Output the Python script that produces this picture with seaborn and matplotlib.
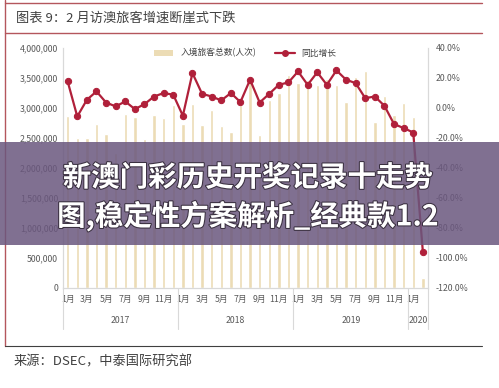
import numpy as np
import pandas as pd
import matplotlib
matplotlib.use("Agg")
import matplotlib.pyplot as plt
import matplotlib.patheffects as pe
from matplotlib.lines import Line2D
from matplotlib.patches import Rectangle, Patch
import seaborn as sns

# 2017-01 .. 2020-02
month_nums = list(range(1, 13)) * 3 + [1, 2]
years = ["2017", "2018", "2019", "2020"]
year_lengths = [12, 12, 12, 2]

visitors = [2870000, 2490000, 2490000, 2730000, 2560000, 2250000, 2900000, 2840000,
            2480000, 2880000, 2830000, 3050000,
            2730000, 3060000, 2720000, 2960000, 2700000, 2590000, 3040000, 3500000,
            2550000, 3130000, 3240000, 3550000,
            3410000, 3460000, 3380000, 3480000, 3380000, 3090000, 3520000, 3610000,
            2760000, 3190000, 2880000, 3080000,
            2840000, 160000]

yoy = [17.5, -5.8, 5.3, 10.9, 3.5, 0.9, 4.2, -0.9, 2.4, 7.5, 9.8, 8.7,
       -5.3, 23.1, 9.3, 7.5, 4.9, 9.8, 3.8, 18.7, 3.5, 9.3, 15.3, 16.9,
       24.2, 15.3, 23.6, 15.3, 24.9, 18.7, 16.4, 6.4, 7.5, 1.3, -10.9, -13.5,
       -16.5, -95.8]

bar_label = "入境旅客总数(人次)"
line_label = "同比增长"
title = "图表 9：2 月访澳旅客增速断崖式下跌"
source = "来源：DSEC，中泰国际研究部"
banner = "新澳门彩历史开奖记录十走势\n图,稳定性方案解析_经典款1.2"

bar_color = "#ecdcb5"
line_color = "#b0203a"
frame_red = "#b4565c"
tick_grey = "#595959"


def main():
    sns.set_style("white")
    plt.rcParams["font.family"] = ["Noto Sans CJK SC", "DejaVu Sans"]

    n = len(visitors)
    df = pd.DataFrame({"idx": np.arange(n), "visitors": visitors, "yoy": yoy})

    fig = plt.figure(figsize=(4.99, 3.88), dpi=100)
    ax = fig.add_axes([0.126, 0.258, 0.731, 0.619])

    sns.barplot(data=df, x="idx", y="visitors", color=bar_color, width=0.35,
                saturation=1, ax=ax)
    ax.set_xlim(-0.5, n - 0.5)
    ax.set_ylim(0, 4000000)
    ax.set_yticks(np.arange(0, 4000001, 500000))
    ax.set_yticklabels([f"{int(v):,}" for v in ax.get_yticks()])
    ax.set_xlabel("")
    ax.set_ylabel("")

    xt = [i for i in range(n) if month_nums[i] % 2 == 1]
    ax.set_xticks(xt)
    ax.set_xticklabels([f"{month_nums[i]}月" for i in xt])
    ax.tick_params(axis="both", length=0, labelsize=6.3, colors=tick_grey)
    ax.tick_params(axis="x", pad=5)

    ax2 = ax.twinx()
    sns.lineplot(data=df, x="idx", y="yoy", color=line_color, marker="o",
                 markersize=4.5, markeredgecolor=line_color, linewidth=1.6, ax=ax2)
    ax2.set_ylim(-120, 40)
    ax2.set_yticks(np.arange(-120, 41, 20))
    ax2.set_yticklabels([f"{v:.1f}%" for v in ax2.get_yticks()])
    ax2.set_ylabel("")
    ax2.set_xlabel("")
    ax2.set_xlim(-0.5, n - 0.5)
    ax2.tick_params(axis="y", length=0, labelsize=6.3, colors=tick_grey, pad=6)

    for a in (ax, ax2):
        for s in a.spines.values():
            s.set_color("#d9d9d9")
            s.set_linewidth(0.8)
        a.spines["top"].set_visible(False)

    # year groups under the month labels
    start = -0.5
    trans = ax.get_xaxis_transform()
    bounds = [start]
    for y, length in zip(years, year_lengths):
        ax.text(start + length / 2, -0.135, y, transform=trans, ha="center",
                va="center", fontsize=6.3, color=tick_grey)
        start += length
        bounds.append(start)
    for b in bounds:
        ax.plot([b, b], [0, -0.17], transform=trans, color="#d9d9d9",
                linewidth=0.8, clip_on=False)

    handles = [Patch(facecolor=bar_color, edgecolor="none"),
               Line2D([], [], color=line_color, marker="o", markersize=4, linewidth=1.6)]
    ax2.legend(handles, [bar_label, line_label], loc="upper center",
               bbox_to_anchor=(0.5, 1.03), ncol=2, frameon=False, fontsize=6.3,
               handlelength=2.2, columnspacing=2.2, labelcolor="#404040")

    # report frame
    fig.add_artist(Line2D([0.010, 0.966], [0.992, 0.992], color=frame_red, linewidth=1.0))
    fig.add_artist(Line2D([0.010, 0.966], [0.915, 0.915], color=frame_red, linewidth=1.0))
    fig.add_artist(Line2D([0.010, 0.010], [0.108, 1.0], color=frame_red, linewidth=1.0))
    fig.add_artist(Line2D([0.010, 0.966], [0.108, 0.108], color="#404040", linewidth=0.8))
    fig.text(0.032, 0.954, title, fontsize=9.5, color="#404040", va="center")
    fig.text(0.028, 0.067, source, fontsize=9.5, color="#404040", va="center")

    # overlay banner
    fig.add_artist(Rectangle((0, 0.369), 1, 0.265, transform=fig.transFigure,
                             facecolor="#6a577e", alpha=0.85, edgecolor="none", zorder=10))
    fig.text(0.497, 0.49, banner, fontsize=20.5, fontweight="bold", color="white",
             ha="center", va="center", linespacing=1.35, zorder=11,
             path_effects=[pe.withStroke(linewidth=1.5, foreground="#3a3040")])

    fig.savefig("out.png", dpi=100)


if __name__ == "__main__":
    main()
